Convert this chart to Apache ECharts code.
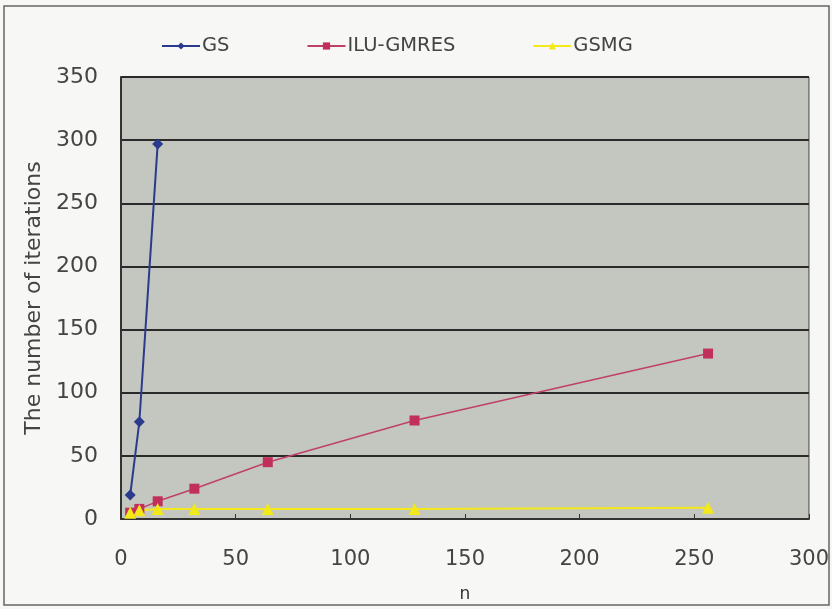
<!DOCTYPE html>
<html><head><meta charset="utf-8">
<script src="https://cdn.jsdelivr.net/npm/echarts@6/dist/echarts.min.js"></script>
<style>html,body{margin:0;padding:0;background:#f7f7f5;}#c{width:832px;height:609px;}</style>
</head><body><div id="c"></div>
<script>
const seriesNames = ['GS', 'ILU-GMRES', 'GSMG'];
const gsN = [4, 8, 16];
const gsIter = [19, 77, 297];
const iluN = [4, 8, 16, 32, 64, 128, 256];
const iluIter = [5, 8, 14, 24, 45, 78, 131];
const gsmgN = [4, 8, 16, 32, 64, 128, 256];
const gsmgIter = [5, 7, 8, 8, 8, 8, 9];

const font = '"DejaVu Sans", sans-serif';
const chart = echarts.init(document.getElementById('c'));
const pair = (xs, ys) => xs.map((x, i) => [x, ys[i]]);
chart.setOption({
  backgroundColor: '#f7f7f5',
  animation: false,
  graphic: [{type: 'rect', shape: {x: 4, y: 6, width: 825, height: 599}, style: {fill: 'none', stroke: '#666', lineWidth: 1.5}}],
  legend: {
    top: 31, left: 156, itemGap: 77, itemWidth: 38, itemHeight: 9,
    textStyle: {fontFamily: font, fontSize: 19.5, color: '#444', padding: [0, 0, 0, -3]},
    data: seriesNames
  },
  grid: {left: 121, right: 22, top: 77, bottom: 90, show: true, backgroundColor: '#c3c7c0', borderColor: '#444', borderWidth: 1},
  xAxis: {
    type: 'value', min: 0, max: 300, interval: 50,
    name: 'n', nameLocation: 'middle', nameGap: 67,
    nameTextStyle: {fontFamily: font, fontSize: 17, color: '#333'},
    axisLine: {lineStyle: {color: '#333', width: 2}},
    axisTick: {show: true, inside: true, length: 5, lineStyle: {color: '#333'}},
    axisLabel: {fontFamily: font, fontSize: 21, color: '#444', margin: 30},
    splitLine: {show: false}
  },
  yAxis: {
    type: 'value', min: 0, max: 350, interval: 50,
    name: 'The number of iterations', nameLocation: 'middle', nameGap: 75,
    nameTextStyle: {fontFamily: font, fontSize: 22, color: '#444'},
    axisLine: {show: true, lineStyle: {color: '#333', width: 2}},
    axisTick: {show: false},
    axisLabel: {fontFamily: font, fontSize: 22, color: '#444', margin: 23},
    splitLine: {lineStyle: {color: '#2a2a2a', width: 2}}
  },
  series: [
    {name: seriesNames[0], type: 'line', data: pair(gsN, gsIter), symbol: 'diamond', symbolSize: 11,
     itemStyle: {color: '#2b3a8c'}, lineStyle: {color: '#2b3a8c', width: 2}},
    {name: seriesNames[1], type: 'line', data: pair(iluN, iluIter), symbol: 'rect', symbolSize: 10,
     itemStyle: {color: '#c0305a'}, lineStyle: {color: '#c0406a', width: 1.5}},
    {name: seriesNames[2], type: 'line', data: pair(gsmgN, gsmgIter), symbol: 'triangle', symbolSize: 12,
     itemStyle: {color: '#f2e81a'}, lineStyle: {color: '#f2e81a', width: 2}}
  ]
});
</script></body></html>
